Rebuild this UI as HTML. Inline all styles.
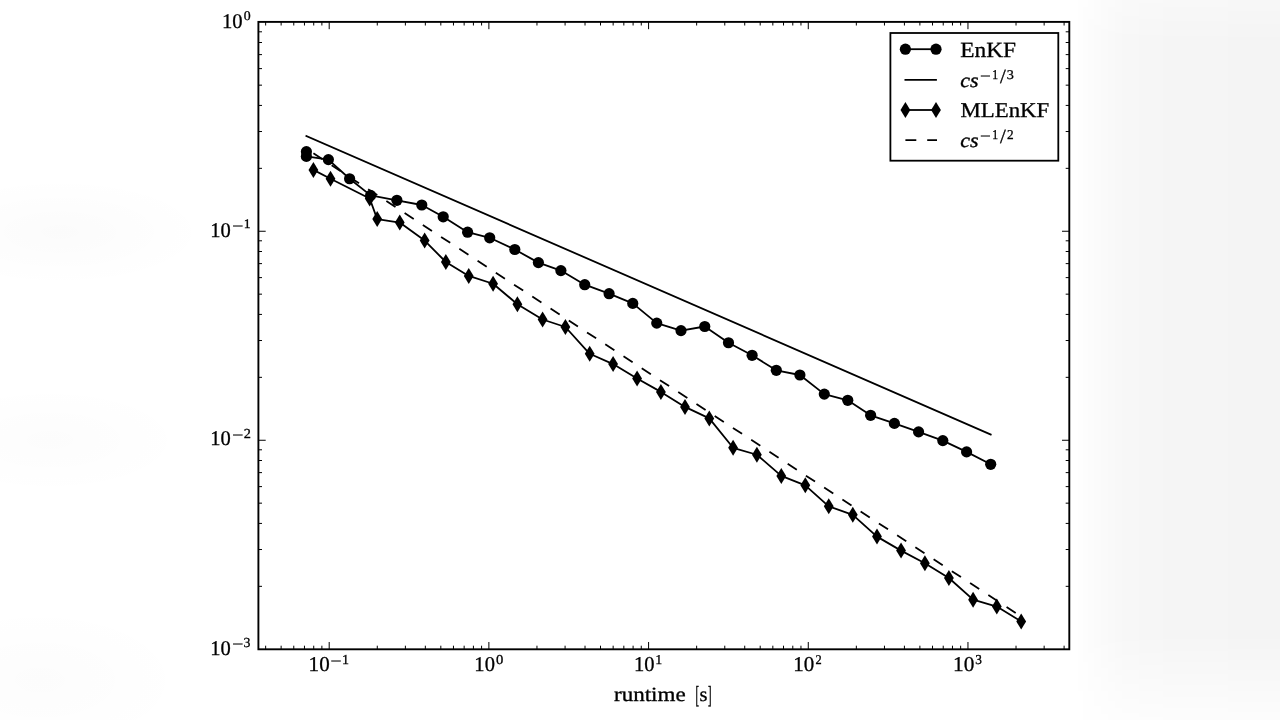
<!DOCTYPE html>
<html><head><meta charset="utf-8"><title>runtime plot</title>
<style>
html,body{margin:0;padding:0;background:#fff;}
body{width:1280px;height:720px;overflow:hidden;position:relative;}
#bg{position:absolute;left:0;top:0;width:1280px;height:720px;background:
radial-gradient(ellipse 150px 55px at 60px 232px,rgba(0,0,0,.014),rgba(0,0,0,0)),
radial-gradient(ellipse 140px 55px at 50px 440px,rgba(0,0,0,.013),rgba(0,0,0,0)),
radial-gradient(ellipse 150px 75px at 40px 680px,rgba(0,0,0,.013),rgba(0,0,0,0));}
#rg{position:absolute;left:1076px;top:0;width:204px;height:720px;
background:linear-gradient(to right,rgba(0,0,0,0) 0px,rgba(0,0,0,.012) 14px,rgba(0,0,0,.03) 50px,rgba(0,0,0,.04) 100px,rgba(0,0,0,.045) 204px);
-webkit-mask-image:linear-gradient(to bottom,rgba(0,0,0,.7) 0%,#000 6%,#000 88%,rgba(0,0,0,.25) 100%);
mask-image:linear-gradient(to bottom,rgba(0,0,0,.7) 0%,#000 6%,#000 88%,rgba(0,0,0,.25) 100%);}
svg{position:absolute;left:0;top:0;}
text{font-family:"Liberation Serif","DejaVu Serif",serif;fill:#000;text-rendering:geometricPrecision;}
</style></head><body>
<div id="bg"></div><div id="rg"></div>
<svg width="1280" height="720" viewBox="0 0 1280 720">
<path d="M265.65 649.3v-3.6M265.65 21.9v3.6M281.13 649.3v-3.6M281.13 21.9v3.6M293.77 649.3v-3.6M293.77 21.9v3.6M304.46 649.3v-3.6M304.46 21.9v3.6M313.72 649.3v-3.6M313.72 21.9v3.6M321.89 649.3v-3.6M321.89 21.9v3.6M329.2 649.3v-7.3M329.2 21.9v7.3M377.27 649.3v-3.6M377.27 21.9v3.6M405.39 649.3v-3.6M405.39 21.9v3.6M425.34 649.3v-3.6M425.34 21.9v3.6M440.82 649.3v-3.6M440.82 21.9v3.6M453.46 649.3v-3.6M453.46 21.9v3.6M464.15 649.3v-3.6M464.15 21.9v3.6M473.41 649.3v-3.6M473.41 21.9v3.6M481.58 649.3v-3.6M481.58 21.9v3.6M488.89 649.3v-7.3M488.89 21.9v7.3M536.96 649.3v-3.6M536.96 21.9v3.6M565.08 649.3v-3.6M565.08 21.9v3.6M585.03 649.3v-3.6M585.03 21.9v3.6M600.51 649.3v-3.6M600.51 21.9v3.6M613.15 649.3v-3.6M613.15 21.9v3.6M623.84 649.3v-3.6M623.84 21.9v3.6M633.1 649.3v-3.6M633.1 21.9v3.6M641.27 649.3v-3.6M641.27 21.9v3.6M648.58 649.3v-7.3M648.58 21.9v7.3M696.65 649.3v-3.6M696.65 21.9v3.6M724.77 649.3v-3.6M724.77 21.9v3.6M744.72 649.3v-3.6M744.72 21.9v3.6M760.2 649.3v-3.6M760.2 21.9v3.6M772.84 649.3v-3.6M772.84 21.9v3.6M783.53 649.3v-3.6M783.53 21.9v3.6M792.79 649.3v-3.6M792.79 21.9v3.6M800.96 649.3v-3.6M800.96 21.9v3.6M808.27 649.3v-7.3M808.27 21.9v7.3M856.34 649.3v-3.6M856.34 21.9v3.6M884.46 649.3v-3.6M884.46 21.9v3.6M904.41 649.3v-3.6M904.41 21.9v3.6M919.89 649.3v-3.6M919.89 21.9v3.6M932.53 649.3v-3.6M932.53 21.9v3.6M943.22 649.3v-3.6M943.22 21.9v3.6M952.48 649.3v-3.6M952.48 21.9v3.6M960.65 649.3v-3.6M960.65 21.9v3.6M967.96 649.3v-7.3M967.96 21.9v7.3M1016.03 649.3v-3.6M1016.03 21.9v3.6M1044.15 649.3v-3.6M1044.15 21.9v3.6M1064.1 649.3v-3.6M1064.1 21.9v3.6M258.4 586.33h3.6M1069.3 586.33h-3.6M258.4 549.53h3.6M1069.3 549.53h-3.6M258.4 523.42h3.6M1069.3 523.42h-3.6M258.4 503.17h3.6M1069.3 503.17h-3.6M258.4 486.62h3.6M1069.3 486.62h-3.6M258.4 472.62h3.6M1069.3 472.62h-3.6M258.4 460.5h3.6M1069.3 460.5h-3.6M258.4 449.81h3.6M1069.3 449.81h-3.6M258.4 440.25h7.3M1069.3 440.25h-7.3M258.4 377.33h3.6M1069.3 377.33h-3.6M258.4 340.53h3.6M1069.3 340.53h-3.6M258.4 314.42h3.6M1069.3 314.42h-3.6M258.4 294.17h3.6M1069.3 294.17h-3.6M258.4 277.62h3.6M1069.3 277.62h-3.6M258.4 263.62h3.6M1069.3 263.62h-3.6M258.4 251.5h3.6M1069.3 251.5h-3.6M258.4 240.81h3.6M1069.3 240.81h-3.6M258.4 231.25h7.3M1069.3 231.25h-7.3M258.4 168.33h3.6M1069.3 168.33h-3.6M258.4 131.53h3.6M1069.3 131.53h-3.6M258.4 105.42h3.6M1069.3 105.42h-3.6M258.4 85.17h3.6M1069.3 85.17h-3.6M258.4 68.62h3.6M1069.3 68.62h-3.6M258.4 54.62h3.6M1069.3 54.62h-3.6M258.4 42.5h3.6M1069.3 42.5h-3.6M258.4 31.81h3.6M1069.3 31.81h-3.6" stroke="#000" stroke-width="1" fill="none"/>
<path d="M306.4 135.97L990.7 434.5" stroke="#000" stroke-width="1.8" fill="none" stroke-linecap="square"/>
<path d="M313.4 153.34L1021.2 616.52" stroke="#000" stroke-width="1.8" fill="none" stroke-dasharray="10.9 10.9"/>
<path d="M306.4 151.7L306.4 156.4L328.4 159.6L349.6 178.75L370.6 195.4L396.9 200.3L421.8 205L443.2 216.8L467.6 232.2L489.7 237.8L514.8 249.5L538.4 262.6L560.9 270.6L584.75 284.7L609.1 293.7L632.75 303.4L656.75 323.1L681 330.6L704.75 326.5L728.5 342.75L752.1 355.3L776.3 370.3L799.9 375L824.3 394.1L847.75 400.3L870.6 415.3L894.4 423.4L918.6 431.9L942.8 440.6L966.6 451.9L990.7 464.3" stroke="#000" stroke-width="1.8" fill="none" stroke-linejoin="round"/>
<path d="M313.4 169.9L330.5 178.75L369.7 198.5L377.2 219.1L399.75 222.6L424.65 240.6L445.85 262L468.75 275.9L493.1 283.75L517.4 304.2L542.6 319.5L565.4 327L589.7 353.8L613.1 364.1L637.1 378.4L660.9 391.9L685 406.9L709.3 418.4L733.1 447.8L756.9 454.75L781.3 475.9L805.3 485.3L828.75 506.3L852.8 514.8L877 536.6L901.05 550.6L924.9 563.2L948.9 578L973.1 599.7L996.8 606.6L1021.2 621.4" stroke="#000" stroke-width="1.8" fill="none" stroke-linejoin="round"/>
<g fill="#000"><circle cx="306.4" cy="151.7" r="5.6"/><circle cx="306.4" cy="156.4" r="5.6"/><circle cx="328.4" cy="159.6" r="5.6"/><circle cx="349.6" cy="178.75" r="5.6"/><circle cx="370.6" cy="195.4" r="5.6"/><circle cx="396.9" cy="200.3" r="5.6"/><circle cx="421.8" cy="205" r="5.6"/><circle cx="443.2" cy="216.8" r="5.6"/><circle cx="467.6" cy="232.2" r="5.6"/><circle cx="489.7" cy="237.8" r="5.6"/><circle cx="514.8" cy="249.5" r="5.6"/><circle cx="538.4" cy="262.6" r="5.6"/><circle cx="560.9" cy="270.6" r="5.6"/><circle cx="584.75" cy="284.7" r="5.6"/><circle cx="609.1" cy="293.7" r="5.6"/><circle cx="632.75" cy="303.4" r="5.6"/><circle cx="656.75" cy="323.1" r="5.6"/><circle cx="681" cy="330.6" r="5.6"/><circle cx="704.75" cy="326.5" r="5.6"/><circle cx="728.5" cy="342.75" r="5.6"/><circle cx="752.1" cy="355.3" r="5.6"/><circle cx="776.3" cy="370.3" r="5.6"/><circle cx="799.9" cy="375" r="5.6"/><circle cx="824.3" cy="394.1" r="5.6"/><circle cx="847.75" cy="400.3" r="5.6"/><circle cx="870.6" cy="415.3" r="5.6"/><circle cx="894.4" cy="423.4" r="5.6"/><circle cx="918.6" cy="431.9" r="5.6"/><circle cx="942.8" cy="440.6" r="5.6"/><circle cx="966.6" cy="451.9" r="5.6"/><circle cx="990.7" cy="464.3" r="5.6"/></g>
<g fill="#000"><path d="M313.4 161.9l4.9 8l-4.9 8l-4.9 -8z"/><path d="M330.5 170.75l4.9 8l-4.9 8l-4.9 -8z"/><path d="M369.7 190.5l4.9 8l-4.9 8l-4.9 -8z"/><path d="M377.2 211.1l4.9 8l-4.9 8l-4.9 -8z"/><path d="M399.75 214.6l4.9 8l-4.9 8l-4.9 -8z"/><path d="M424.65 232.6l4.9 8l-4.9 8l-4.9 -8z"/><path d="M445.85 254l4.9 8l-4.9 8l-4.9 -8z"/><path d="M468.75 267.9l4.9 8l-4.9 8l-4.9 -8z"/><path d="M493.1 275.75l4.9 8l-4.9 8l-4.9 -8z"/><path d="M517.4 296.2l4.9 8l-4.9 8l-4.9 -8z"/><path d="M542.6 311.5l4.9 8l-4.9 8l-4.9 -8z"/><path d="M565.4 319l4.9 8l-4.9 8l-4.9 -8z"/><path d="M589.7 345.8l4.9 8l-4.9 8l-4.9 -8z"/><path d="M613.1 356.1l4.9 8l-4.9 8l-4.9 -8z"/><path d="M637.1 370.4l4.9 8l-4.9 8l-4.9 -8z"/><path d="M660.9 383.9l4.9 8l-4.9 8l-4.9 -8z"/><path d="M685 398.9l4.9 8l-4.9 8l-4.9 -8z"/><path d="M709.3 410.4l4.9 8l-4.9 8l-4.9 -8z"/><path d="M733.1 439.8l4.9 8l-4.9 8l-4.9 -8z"/><path d="M756.9 446.75l4.9 8l-4.9 8l-4.9 -8z"/><path d="M781.3 467.9l4.9 8l-4.9 8l-4.9 -8z"/><path d="M805.3 477.3l4.9 8l-4.9 8l-4.9 -8z"/><path d="M828.75 498.3l4.9 8l-4.9 8l-4.9 -8z"/><path d="M852.8 506.8l4.9 8l-4.9 8l-4.9 -8z"/><path d="M877 528.6l4.9 8l-4.9 8l-4.9 -8z"/><path d="M901.05 542.6l4.9 8l-4.9 8l-4.9 -8z"/><path d="M924.9 555.2l4.9 8l-4.9 8l-4.9 -8z"/><path d="M948.9 570l4.9 8l-4.9 8l-4.9 -8z"/><path d="M973.1 591.7l4.9 8l-4.9 8l-4.9 -8z"/><path d="M996.8 598.6l4.9 8l-4.9 8l-4.9 -8z"/><path d="M1021.2 613.4l4.9 8l-4.9 8l-4.9 -8z"/></g>
<rect x="258.4" y="21.9" width="810.9" height="627.4" fill="none" stroke="#000" stroke-width="1.9"/>
<rect x="890.4" y="33" width="167.9" height="127.7" fill="#fff" stroke="#000" stroke-width="1.8"/>
<path d="M905.4 49.2H936" stroke="#000" stroke-width="1.8"/><circle cx="905.4" cy="49.2" r="5.6"/><circle cx="936" cy="49.2" r="5.6"/>
<path d="M905.4 79.8H936" stroke="#000" stroke-width="1.8" stroke-linecap="square"/>
<path d="M905.4 110H936" stroke="#000" stroke-width="1.8"/><path d="M905.4 102l4.9 8l-4.9 8l-4.9 -8z"/><path d="M936 102l4.9 8l-4.9 8l-4.9 -8z"/>
<path d="M905.4 140.2H937" stroke="#000" stroke-width="1.8" stroke-dasharray="10.9 10.9"/>
<text id="yb0" transform="translate(221.99 28) scale(0.9910 1)" font-size="20.86" stroke="#000" stroke-width="0.3">10</text>
<text id="ys0" transform="translate(243.72 20) scale(1.0471 1)" font-size="13.24" stroke="#000" stroke-width="0.3">0</text>
<text id="yb1" transform="translate(210.18 237) scale(0.9861 1)" font-size="20.83" stroke="#000" stroke-width="0.3">10</text>
<text id="ym1" transform="translate(232.15 231) scale(1.3089 1)" font-size="15" stroke="#000" stroke-width="0.3">−</text>
<text id="ys1" transform="translate(243.85 228) scale(1.0492 1)" font-size="13.09" stroke="#000" stroke-width="0.3">1</text>
<text id="yb2" transform="translate(210.18 445) scale(0.9861 1)" font-size="20.83" stroke="#000" stroke-width="0.3">10</text>
<text id="ym2" transform="translate(232.15 440) scale(1.3089 1)" font-size="15" stroke="#000" stroke-width="0.3">−</text>
<text id="ys2" transform="translate(243.66 438) scale(1.0310 1)" font-size="13.83" stroke="#000" stroke-width="0.3">2</text>
<text id="yb3" transform="translate(210.18 655) scale(0.9861 1)" font-size="20.83" stroke="#000" stroke-width="0.3">10</text>
<text id="ym3" transform="translate(232.15 649) scale(1.3089 1)" font-size="15" stroke="#000" stroke-width="0.3">−</text>
<text id="ys3" transform="translate(243.57 647) scale(1.0020 1)" font-size="13.81" stroke="#000" stroke-width="0.3">3</text>
<text id="xb-1" transform="translate(308.61 671) scale(0.9983 1)" font-size="21.09" stroke="#000" stroke-width="0.3">10</text>
<text id="xm-1" transform="translate(330.39 666) scale(1.3012 1)" font-size="15" stroke="#000" stroke-width="0.3">−</text>
<text id="xs-1" transform="translate(341.97 664) scale(1.0139 1)" font-size="13.83" stroke="#000" stroke-width="0.3">1</text>
<text id="xb0" transform="translate(474.37 671) scale(0.9788 1)" font-size="21.02" stroke="#000" stroke-width="0.3">10</text>
<text id="xs0" transform="translate(496.01 664) scale(1.0826 1)" font-size="13.51" stroke="#000" stroke-width="0.3">0</text>
<text id="xb1" transform="translate(634.08 671) scale(0.9738 1)" font-size="21.12" stroke="#000" stroke-width="0.3">10</text>
<text id="xs1" transform="translate(655.36 664) scale(1.0250 1)" font-size="13.59" stroke="#000" stroke-width="0.3">1</text>
<text id="xb2" transform="translate(793.34 671) scale(0.9976 1)" font-size="21.06" stroke="#000" stroke-width="0.3">10</text>
<text id="xs2" transform="translate(815.58 664) scale(0.9296 1)" font-size="13.33" stroke="#000" stroke-width="0.3">2</text>
<text id="xb3" transform="translate(953.02 671) scale(1.0075 1)" font-size="21.16" stroke="#000" stroke-width="0.3">10</text>
<text id="xs3" transform="translate(975.2 664) scale(0.9813 1)" font-size="13.61" stroke="#000" stroke-width="0.3">3</text>
<text id="rt1" transform="translate(613.99 701) scale(1.1435 1)" font-size="20.17" stroke="#000" stroke-width="0.3">runtime</text>
<text id="rb1" transform="translate(695.48 703) scale(0.4265 1)" font-size="24.61" stroke="#000" stroke-width="0.5" vector-effect="non-scaling-stroke">[</text>
<text id="rs" transform="translate(699.51 701) scale(1.0134 1)" font-size="20.2" stroke="#000" stroke-width="0.3">s</text>
<text id="rb2" transform="translate(707.93 703) scale(0.4287 1)" font-size="24.61" stroke="#000" stroke-width="0.5" vector-effect="non-scaling-stroke">]</text>
<text id="l1" transform="translate(960.3 57) scale(1.0793 1)" font-size="21.63" stroke="#000" stroke-width="0.3">EnKF</text>
<text id="l3" transform="translate(960.48 117) scale(1.0871 1)" font-size="21.01" stroke="#000" stroke-width="0.3">MLEnKF</text>
<text id="c1" transform="translate(960.33 87) scale(1.0935 1)" font-size="20.14" font-style="italic" stroke="#000" stroke-width="0.35">cs</text>
<text id="m1" transform="translate(979.98 81) scale(1.2633 1)" font-size="15" stroke="#000" stroke-width="0.3">−</text>
<text id="a1" transform="translate(992.22 79) scale(0.8662 1)" font-size="13.52" stroke="#000" stroke-width="0.3">1</text>
<text id="h1" transform="translate(1000.11 83) scale(1.0274 1)" font-size="20.29" stroke="#000" stroke-width="0.3">/</text>
<text id="b1" transform="translate(1006.73 79) scale(1.0712 1)" font-size="13.28" stroke="#000" stroke-width="0.3">3</text>
<text id="c2" transform="translate(960.33 147) scale(1.0935 1)" font-size="20.14" font-style="italic" stroke="#000" stroke-width="0.35">cs</text>
<text id="m2" transform="translate(979.98 141) scale(1.2633 1)" font-size="15" stroke="#000" stroke-width="0.3">−</text>
<text id="a2" transform="translate(992.22 139) scale(0.8662 1)" font-size="13.52" stroke="#000" stroke-width="0.3">1</text>
<text id="h2" transform="translate(1000.11 143) scale(1.0274 1)" font-size="20.29" stroke="#000" stroke-width="0.3">/</text>
<text id="b2" transform="translate(1006.99 139) scale(0.9812 1)" font-size="13.54" stroke="#000" stroke-width="0.3">2</text>
</svg>
</body></html>
